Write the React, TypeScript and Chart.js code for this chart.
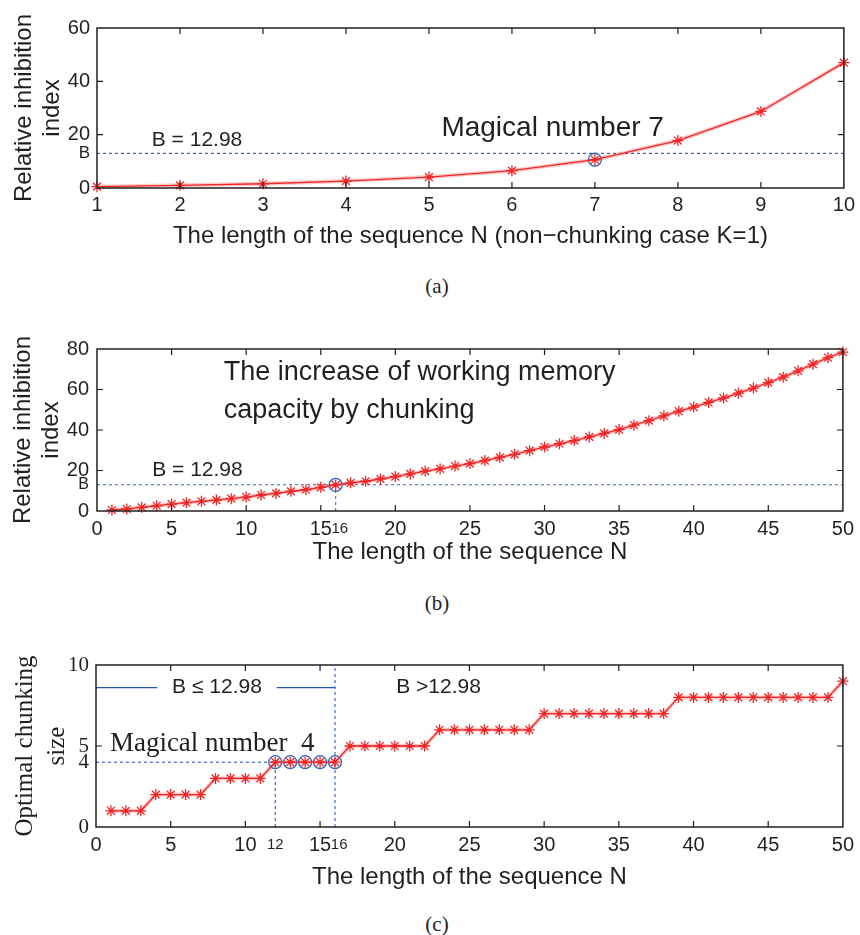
import React, { useEffect, useRef } from 'react';
import { Chart, registerables } from 'chart.js';
Chart.register(...registerables);

const B = 12.98;

// (a) non-chunking case
const nA = [1, 2, 3, 4, 5, 6, 7, 8, 9, 10];
const riA = [0.5, 1.0, 1.6, 2.6, 4.1, 6.5, 10.6, 17.8, 28.7, 47.0];
const xTicksA = [1, 2, 3, 4, 5, 6, 7, 8, 9, 10];
const yTicksA = [0, B, 20, 40, 60];
const circA = [7];

// (b) chunking
const nB = [
  1, 2, 3, 4, 5, 6, 7, 8, 9, 10, 11, 12, 13, 14, 15, 16, 17, 18, 19, 20, 21, 22, 23, 24, 25,
  26, 27, 28, 29, 30, 31, 32, 33, 34, 35, 36, 37, 38, 39, 40, 41, 42, 43, 44, 45, 46, 47, 48, 49, 50,
];
const riB = [
  0.5, 1.0, 1.8, 2.6, 3.4, 4.1, 4.8, 5.4, 6.1, 6.9,
  7.9, 8.7, 9.7, 10.5, 11.7, 12.9, 13.9, 14.7, 15.8, 17.0,
  18.3, 19.7, 20.8, 22.2, 23.4, 24.9, 26.5, 28.0, 29.8, 31.6,
  33.2, 34.8, 36.6, 38.3, 40.2, 42.4, 44.6, 47.0, 49.3, 51.3,
  53.6, 55.8, 58.2, 60.7, 63.4, 66.1, 69.2, 72.5, 75.7, 78.5,
];
const xTicksB = [0, 5, 10, 15, 16, 20, 25, 30, 35, 40, 45, 50];
const yTicksB = [0, B, 20, 40, 60, 80];
const circB = [16];

// (c) optimal chunking size
const nC = nB;
const chunkC = [
  1, 1, 1, 2, 2, 2, 2, 3, 3, 3, 3, 4, 4, 4, 4, 4, 5, 5, 5, 5, 5, 5, 6, 6, 6,
  6, 6, 6, 6, 7, 7, 7, 7, 7, 7, 7, 7, 7, 8, 8, 8, 8, 8, 8, 8, 8, 8, 8, 8, 9,
];
const xTicksC = [0, 5, 10, 12, 15, 16, 20, 25, 30, 35, 40, 45, 50];
const yTicksC = [0, 4, 5, 10];
const circC = [12, 13, 14, 15, 16];

const TXT = '#231f20';
const AXIS = '#231f20';
const RED = '#f02626';
const GLOW = 'rgba(245,90,90,0.33)';
const CIRC = '#3a62b8';
const SANS = "'Liberation Sans', Arial, Helvetica, sans-serif";
const SERIF = "'Liberation Serif', 'Times New Roman', serif";
const TL = 6;

type Line = { x0: number; y0: number; x1: number; y1: number; color: string; dash?: number[]; width?: number };
type Txt = { text: string; x: number; y: number; font: string; align?: CanvasTextAlign };

function makeDeco(o: { lines: Line[]; xMarks: number[]; yMarks: number[]; texts: Txt[] }) {
  return {
    id: 'deco',
    beforeDatasetsDraw(chart: any) {
      const ctx = chart.ctx, xs = chart.scales.x, ys = chart.scales.y;
      ctx.save();
      for (const l of o.lines) {
        ctx.beginPath();
        ctx.strokeStyle = l.color;
        ctx.lineWidth = l.width ?? 1.1;
        ctx.setLineDash(l.dash ?? []);
        ctx.moveTo(xs.getPixelForValue(l.x0), ys.getPixelForValue(l.y0));
        ctx.lineTo(xs.getPixelForValue(l.x1), ys.getPixelForValue(l.y1));
        ctx.stroke();
      }
      ctx.restore();
    },
    afterDatasetsDraw(chart: any) {
      const ctx = chart.ctx, xs = chart.scales.x, ys = chart.scales.y, ca = chart.chartArea;
      ctx.save();
      ctx.setLineDash([]);
      ctx.strokeStyle = AXIS;
      ctx.lineWidth = 1.5;
      ctx.strokeRect(ca.left, ca.top, ca.right - ca.left, ca.bottom - ca.top);
      ctx.lineWidth = 1.2;
      ctx.beginPath();
      for (const v of o.xMarks) {
        const p = xs.getPixelForValue(v);
        ctx.moveTo(p, ca.bottom); ctx.lineTo(p, ca.bottom - TL);
        ctx.moveTo(p, ca.top); ctx.lineTo(p, ca.top + TL);
      }
      for (const v of o.yMarks) {
        const p = ys.getPixelForValue(v);
        ctx.moveTo(ca.left, p); ctx.lineTo(ca.left + TL, p);
        ctx.moveTo(ca.right, p); ctx.lineTo(ca.right - TL, p);
      }
      ctx.stroke();
      for (const t of o.texts) {
        ctx.font = t.font;
        ctx.fillStyle = TXT;
        ctx.textAlign = t.align ?? 'left';
        ctx.textBaseline = 'middle';
        ctx.fillText(t.text, xs.getPixelForValue(t.x), ys.getPixelForValue(t.y));
      }
      ctx.restore();
    },
  };
}

type Cfg = {
  xs: number[]; ys: number[]; circ: number[];
  xMin: number; xMax: number; yMin: number; yMax: number;
  xTicks: number[]; yTicks: number[];
  xLabel: (v: number) => string; yLabel: (v: number) => string;
  xFont: (v: number) => any; yFont: (v: number) => any;
  xTitle: string; yTitle: string[]; yTitleFont: any; yTitlePad: number;
  xTitlePad: number; height: number;
  padding: { top: number; right: number; left: number; bottom: number };
  yWidth: number; xHeight: number; xTickPad: number; yTickPad: number;
  deco: { lines: Line[]; xMarks: number[]; yMarks: number[]; texts: Txt[] };
};

function build(canvas: HTMLCanvasElement, c: Cfg) {
  const pts = c.xs.map((x, i) => ({ x, y: c.ys[i] }));
  const circPts = c.circ.map((n) => ({ x: n, y: c.ys[c.xs.indexOf(n)] }));
  return new Chart(canvas, {
    type: 'line',
    data: {
      datasets: [
        {
          data: pts, borderColor: RED, borderWidth: 1.3, tension: 0, fill: false,
          pointStyle: 'star', pointRadius: 5.5, pointBorderColor: RED, pointBorderWidth: 1.3,
          pointBackgroundColor: RED, clip: false,
        },
        {
          data: circPts, showLine: false, pointStyle: 'circle', pointRadius: 6.5,
          pointBorderColor: CIRC, pointBackgroundColor: 'rgba(0,0,0,0)', pointBorderWidth: 1.3, clip: false,
        },
        {
          data: pts, borderColor: GLOW, borderWidth: 4, pointRadius: 0, tension: 0, fill: false, clip: false,
        },
      ] as any,
    },
    options: {
      responsive: false,
      animation: false,
      events: [],
      layout: { padding: c.padding },
      plugins: { legend: { display: false }, tooltip: { enabled: false } },
      scales: {
        x: {
          type: 'linear', min: c.xMin, max: c.xMax,
          afterBuildTicks: (s: any) => { s.ticks = c.xTicks.map((v) => ({ value: v })); },
          afterFit: (s: any) => { s.height = c.xHeight; },
          grid: { display: false, drawTicks: false },
          border: { display: false },
          ticks: {
            autoSkip: false, maxRotation: 0, padding: c.xTickPad, color: TXT,
            font: (ctx: any) => c.xFont(ctx.tick ? ctx.tick.value : 0),
            callback: (v: any) => c.xLabel(Number(v)),
          },
          title: {
            display: true, text: c.xTitle, color: TXT,
            font: { family: SANS, size: 24, lineHeight: 1.2 },
            padding: { top: 0, bottom: c.xTitlePad },
          },
        },
        y: {
          type: 'linear', min: c.yMin, max: c.yMax,
          afterBuildTicks: (s: any) => { s.ticks = c.yTicks.map((v) => ({ value: v })); },
          afterFit: (s: any) => { s.width = c.yWidth; },
          grid: { display: false, drawTicks: false },
          border: { display: false },
          ticks: {
            autoSkip: false, padding: c.yTickPad, color: TXT,
            font: (ctx: any) => c.yFont(ctx.tick ? ctx.tick.value : 0),
            callback: (v: any) => c.yLabel(Number(v)),
          },
          title: {
            display: true, text: c.yTitle, color: TXT,
            font: c.yTitleFont,
            padding: { top: c.yTitlePad, bottom: 0 },
          },
        },
      },
    } as any,
    plugins: [makeDeco(c.deco) as any],
  });
}

const SMALL = { family: SANS, size: 15, lineHeight: 1.62 };
const NORMAL = { family: SANS, size: 20, lineHeight: 1.2 };

const cfgA: Cfg = {
  xs: nA, ys: riA, circ: circA,
  xMin: 1, xMax: 10, yMin: 0, yMax: 60,
  xTicks: xTicksA, yTicks: yTicksA,
  xLabel: (v) => String(v),
  yLabel: (v) => (v === B ? 'B' : String(v)),
  xFont: () => NORMAL,
  yFont: (v) => (v === B ? { family: SANS, size: 17 } : NORMAL),
  xTitle: 'The length of the sequence N (non\u2212chunking case K=1)',
  yTitle: ['Relative inhibition', 'index'],
  yTitleFont: { family: SANS, size: 24, lineHeight: 28 / 24 },
  yTitlePad: 10, xTitlePad: 9.6, height: 260,
  padding: { top: 28, right: 13, left: 0, bottom: 0 },
  yWidth: 97, xHeight: 72, xTickPad: 5, yTickPad: 7,
  deco: {
    lines: [{ x0: 1, y0: B, x1: 10, y1: B, color: '#2f4f9f', dash: [3, 3] }],
    xMarks: [2, 3, 4, 5, 6, 7, 8, 9],
    yMarks: [20, 40],
    texts: [
      { text: 'B = 12.98', x: 1.66, y: 18, font: `21px ${SANS}` },
      { text: 'Magical number 7', x: 5.15, y: 22.5, font: `28px ${SANS}` },
    ],
  },
};

const cfgB: Cfg = {
  xs: nB, ys: riB, circ: circB,
  xMin: 0, xMax: 50, yMin: 0, yMax: 80,
  xTicks: xTicksB, yTicks: yTicksB,
  xLabel: (v) => (v === 16 ? '  16' : String(v)),
  yLabel: (v) => (v === B ? 'B' : String(v)),
  xFont: (v) => (v === 16 ? SMALL : NORMAL),
  yFont: (v) => (v === B ? { family: SANS, size: 16 } : NORMAL),
  xTitle: 'The length of the sequence N',
  yTitle: ['Relative inhibition', 'index'],
  yTitleFont: { family: SANS, size: 24, lineHeight: 28 / 24 },
  yTitlePad: 9, xTitlePad: 13.6, height: 280,
  padding: { top: 49, right: 13, left: 0, bottom: 0 },
  yWidth: 97, xHeight: 69, xTickPad: 6, yTickPad: 8,
  deco: {
    lines: [
      { x0: 0, y0: B, x1: 50, y1: B, color: '#3d74d0', dash: [3, 3] },
      { x0: 16, y0: 0, x1: 16, y1: B, color: '#3d74d0', dash: [3, 3] },
    ],
    xMarks: [5, 10, 15, 20, 25, 30, 35, 40, 45],
    yMarks: [20, 40, 60],
    texts: [
      { text: 'B = 12.98', x: 3.7, y: 20.3, font: `21px ${SANS}` },
      { text: 'The increase of working memory', x: 8.5, y: 68.3, font: `27px ${SANS}` },
      { text: 'capacity by chunking', x: 8.5, y: 49.5, font: `27px ${SANS}` },
    ],
  },
};

const cfgC: Cfg = {
  xs: nC, ys: chunkC, circ: circC,
  xMin: 0, xMax: 50, yMin: 0, yMax: 10,
  xTicks: xTicksC, yTicks: yTicksC,
  xLabel: (v) => (v === 16 ? '  16' : String(v)),
  yLabel: (v) => String(v),
  xFont: (v) => (v === 12 || v === 16 ? SMALL : NORMAL),
  yFont: () => ({ family: SERIF, size: 21 }),
  xTitle: 'The length of the sequence N',
  yTitle: ['Optimal chunking', 'size'],
  yTitleFont: { family: SERIF, size: 25, lineHeight: 32 / 25 },
  yTitlePad: 9, xTitlePad: 8, height: 300,
  padding: { top: 65, right: 15, left: 0, bottom: 0 },
  yWidth: 96, xHeight: 73, xTickPad: 6, yTickPad: 7,
  deco: {
    lines: [
      { x0: 0, y0: 4, x1: 12, y1: 4, color: '#2a5bb5', dash: [3, 3] },
      { x0: 12, y0: 0, x1: 12, y1: 4, color: '#2a5bb5', dash: [3, 3] },
      { x0: 16, y0: 0, x1: 16, y1: 10, color: '#2a5bb5', dash: [3, 3] },
      { x0: 0, y0: 8.6, x1: 4.1, y1: 8.6, color: '#1f57b0', width: 1.3 },
      { x0: 12.1, y0: 8.6, x1: 16, y1: 8.6, color: '#1f57b0', width: 1.3 },
    ],
    xMarks: [5, 10, 15, 20, 25, 30, 35, 40, 45],
    yMarks: [5],
    texts: [
      { text: 'B \u2264 12.98', x: 8.1, y: 8.6, font: `21px ${SANS}`, align: 'center' },
      { text: 'B >12.98', x: 20.1, y: 8.6, font: `21px ${SANS}` },
      { text: 'Magical number  4', x: 0.93, y: 5.15, font: `27px ${SERIF}` },
    ],
  },
};

function ChartCanvas({ cfg, top }: { cfg: Cfg; top: number }) {
  const ref = useRef<HTMLCanvasElement>(null);
  useEffect(() => {
    if (!ref.current) return;
    const ch = build(ref.current, cfg);
    return () => ch.destroy();
  }, [cfg]);
  return (
    <canvas
      ref={ref}
      width={860}
      height={cfg.height}
      style={{ position: 'absolute', left: 0, top, width: 860, height: cfg.height }}
    />
  );
}

function Caption({ text, cy }: { text: string; cy: number }) {
  return (
    <div
      style={{
        position: 'absolute', left: 0, width: 874, top: cy - 12, height: 24,
        lineHeight: '24px', textAlign: 'center', fontFamily: SERIF, fontSize: 21, color: TXT,
      }}
    >
      {text}
    </div>
  );
}

export default function App() {
  return (
    <div style={{ position: 'absolute', left: 0, top: 0, width: 860, height: 935, background: '#fff', overflow: 'hidden' }}>
      <ChartCanvas cfg={cfgA} top={0} />
      <Caption text="(a)" cy={286} />
      <ChartCanvas cfg={cfgB} top={300} />
      <Caption text="(b)" cy={603} />
      <ChartCanvas cfg={cfgC} top={600} />
      <Caption text="(c)" cy={924} />
    </div>
  );
}
